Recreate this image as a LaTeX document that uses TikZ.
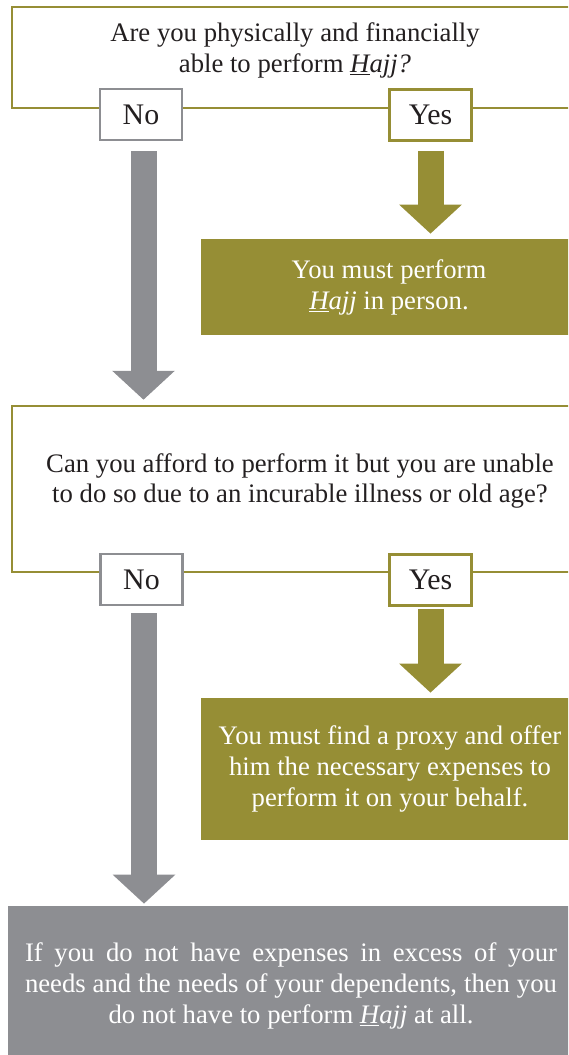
\documentclass[tikz,border=0pt]{standalone}
\usepackage{fontspec}
\setmainfont{Liberation Serif}
\usepackage{xcolor}
\usepackage{tikz}
\usetikzlibrary{arrows.meta,positioning,calc}

\definecolor{hajjolive}{RGB}{150,142,53}
\definecolor{hajjgray}{RGB}{141,142,146}
\definecolor{hajjink}{RGB}{35,31,32}
\newcommand{\hajj}{\textit{\underline{H}ajj}}

\begin{document}
\begin{tikzpicture}[every node/.style={font=\fontsize{15.2}{17.6}\selectfont,inner sep=0pt},
  question/.style={draw=hajjolive,line width=0.05cm},
  choiceno/.style={draw=hajjgray,line width=0.05cm,fill=white,text=hajjink,
    minimum width=1.64cm,minimum height=1.02cm,font=\fontsize{17}{19}\selectfont},
  choiceyes/.style={choiceno,draw=hajjolive},
  answer/.style={fill=hajjolive,text=white,align=center},
  outcome/.style={fill=hajjgray,text=white,align=center},
  downno/.style={draw=hajjgray,line width=0.52cm,-{Triangle[width=1.22cm,length=0.58cm]}},
  downyes/.style={downno,draw=hajjolive}]
  \useasboundingbox (0,0) rectangle (11.36,-21.1);
  \clip (0,0) rectangle (11.36,-21.1);

  % first question
  \node[question,minimum width=11.32cm,minimum height=2.02cm] (q1) at (5.90,-1.15) {};
  \node[text=hajjink,align=center] (q1text) at (5.90,-1.0)
       {Are you physically and financially\\able to perform \textit{\underline{H}ajj?}};
  \node[choiceno]  (no1)  at (2.82,-2.29) {No};
  \node[choiceyes] (yes1) at (8.61,-2.30) {Yes};
  \node[answer,minimum width=7.52cm,minimum height=1.92cm] (ans1) at (7.78,-5.74)
       {You must perform\\\hajj{} in person.};

  % second question
  \node[question,minimum width=11.44cm,minimum height=3.32cm] (q2) at (5.96,-9.78) {};
  \node[text=hajjink,align=center] (q2text) at (6.0,-9.62)
       {Can you afford to perform it but you are unable\\to do so due to an incurable illness or old age?};
  \node[choiceno]  (no2)  at (2.83,-11.59) {No};
  \node[choiceyes] (yes2) at (8.61,-11.60) {Yes};
  \node[answer,minimum width=7.56cm,minimum height=2.84cm] (ans2) at (7.80,-15.38)
       {You must find a proxy and offer\\him the necessary expenses to\\perform it on your behalf.};

  % nothing owed
  \node[outcome,minimum width=11.32cm,minimum height=3.18cm] (final) at (5.82,-19.71)
       {\makebox[10.64cm][s]{If you do not have expenses in excess of your}\\
        \makebox[10.64cm][s]{needs and the needs of your dependents, then you}\\
        do not have to perform \hajj{} at all.};

  % block arrows
  \draw[downno,shorten <=0.20cm,shorten >=0.10cm]
       ([xshift=0.05cm]no1.south) -- ([xshift=0.05cm]no1.south |- q2.north);
  \draw[downyes,shorten <=0.18cm,shorten >=0.10cm]
       (yes1.south) -- (yes1.south |- ans1.north);
  \draw[downno,shorten <=0.14cm,shorten >=0.04cm]
       ([xshift=0.05cm]no2.south) -- ([xshift=0.05cm]no2.south |- final.north);
  \draw[downyes,shorten <=0.04cm,shorten >=0.10cm]
       (yes2.south) -- (yes2.south |- ans2.north);
\end{tikzpicture}
\end{document}
